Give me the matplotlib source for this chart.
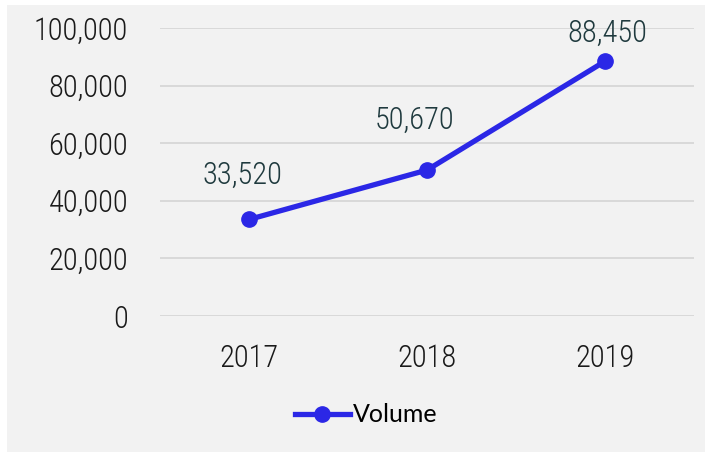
import matplotlib
matplotlib.use("Agg")
from matplotlib import pyplot as plt
from matplotlib.patches import Rectangle

years = ["2017", "2018", "2019"]
volume = [33520, 50670, 88450]
yticks = [0, 20000, 40000, 60000, 80000, 100000]

# label offsets in pixels (style only)
label_offsets = [(-7, 44), (-13, 50), (2, 28)]

W, H = 710, 455
fig = plt.figure(figsize=(W / 100, H / 100), dpi=100)
fig.patch.set_facecolor("white")
fig.patches.append(Rectangle((7 / W, 3 / H), 698 / W, 447 / H,
                             transform=fig.transFigure, facecolor="#f2f2f2",
                             edgecolor="none", zorder=-10))

fam = ["Roboto Condensed", "DejaVu Sans"]
txt = dict(family=fam, stretch="condensed", fontsize=22, fontweight="light")
ax = fig.add_axes([160 / W, 139 / H, 534 / W, 288 / H])
ax.set_facecolor("none")

x = list(range(len(years)))
line, = ax.plot(x, volume, color="#2b27e6", linewidth=3.8, marker="o",
                markersize=11, label="Volume", zorder=3, clip_on=False)

for xi, v, (dx, dy) in zip(x, volume, label_offsets):
    ax.annotate(f"{v:,}", (xi, v), xytext=(dx * 0.72, dy * 0.72),
                textcoords="offset points", ha="center", va="center",
                color="#1f3a3e", **txt)

ax.set_xlim(-0.5, 2.5)
ax.set_ylim(0, 100000)
ax.set_yticks(yticks)
ax.set_yticklabels([f"{t:,}" for t in yticks], color="#1a1a1a", **txt)
ax.set_xticks(x)
ax.set_xticklabels(years, color="#1a1a1a", **txt)
ax.tick_params(axis="y", length=0, pad=23)
ax.tick_params(axis="x", length=0, pad=20)
ax.grid(axis="y", color="#d9d9d9", linewidth=1.4)
ax.set_axisbelow(True)
for s in ax.spines.values():
    s.set_visible(False)

fig.legend(handles=[line], loc="center", bbox_to_anchor=(366 / W, 1 - 415 / H),
           frameon=False, handlelength=2.2, handletextpad=0.1,
           prop={"family": ["Lato", "DejaVu Sans"], "size": 18})

fig.savefig("out.png", dpi=100, facecolor="white")
